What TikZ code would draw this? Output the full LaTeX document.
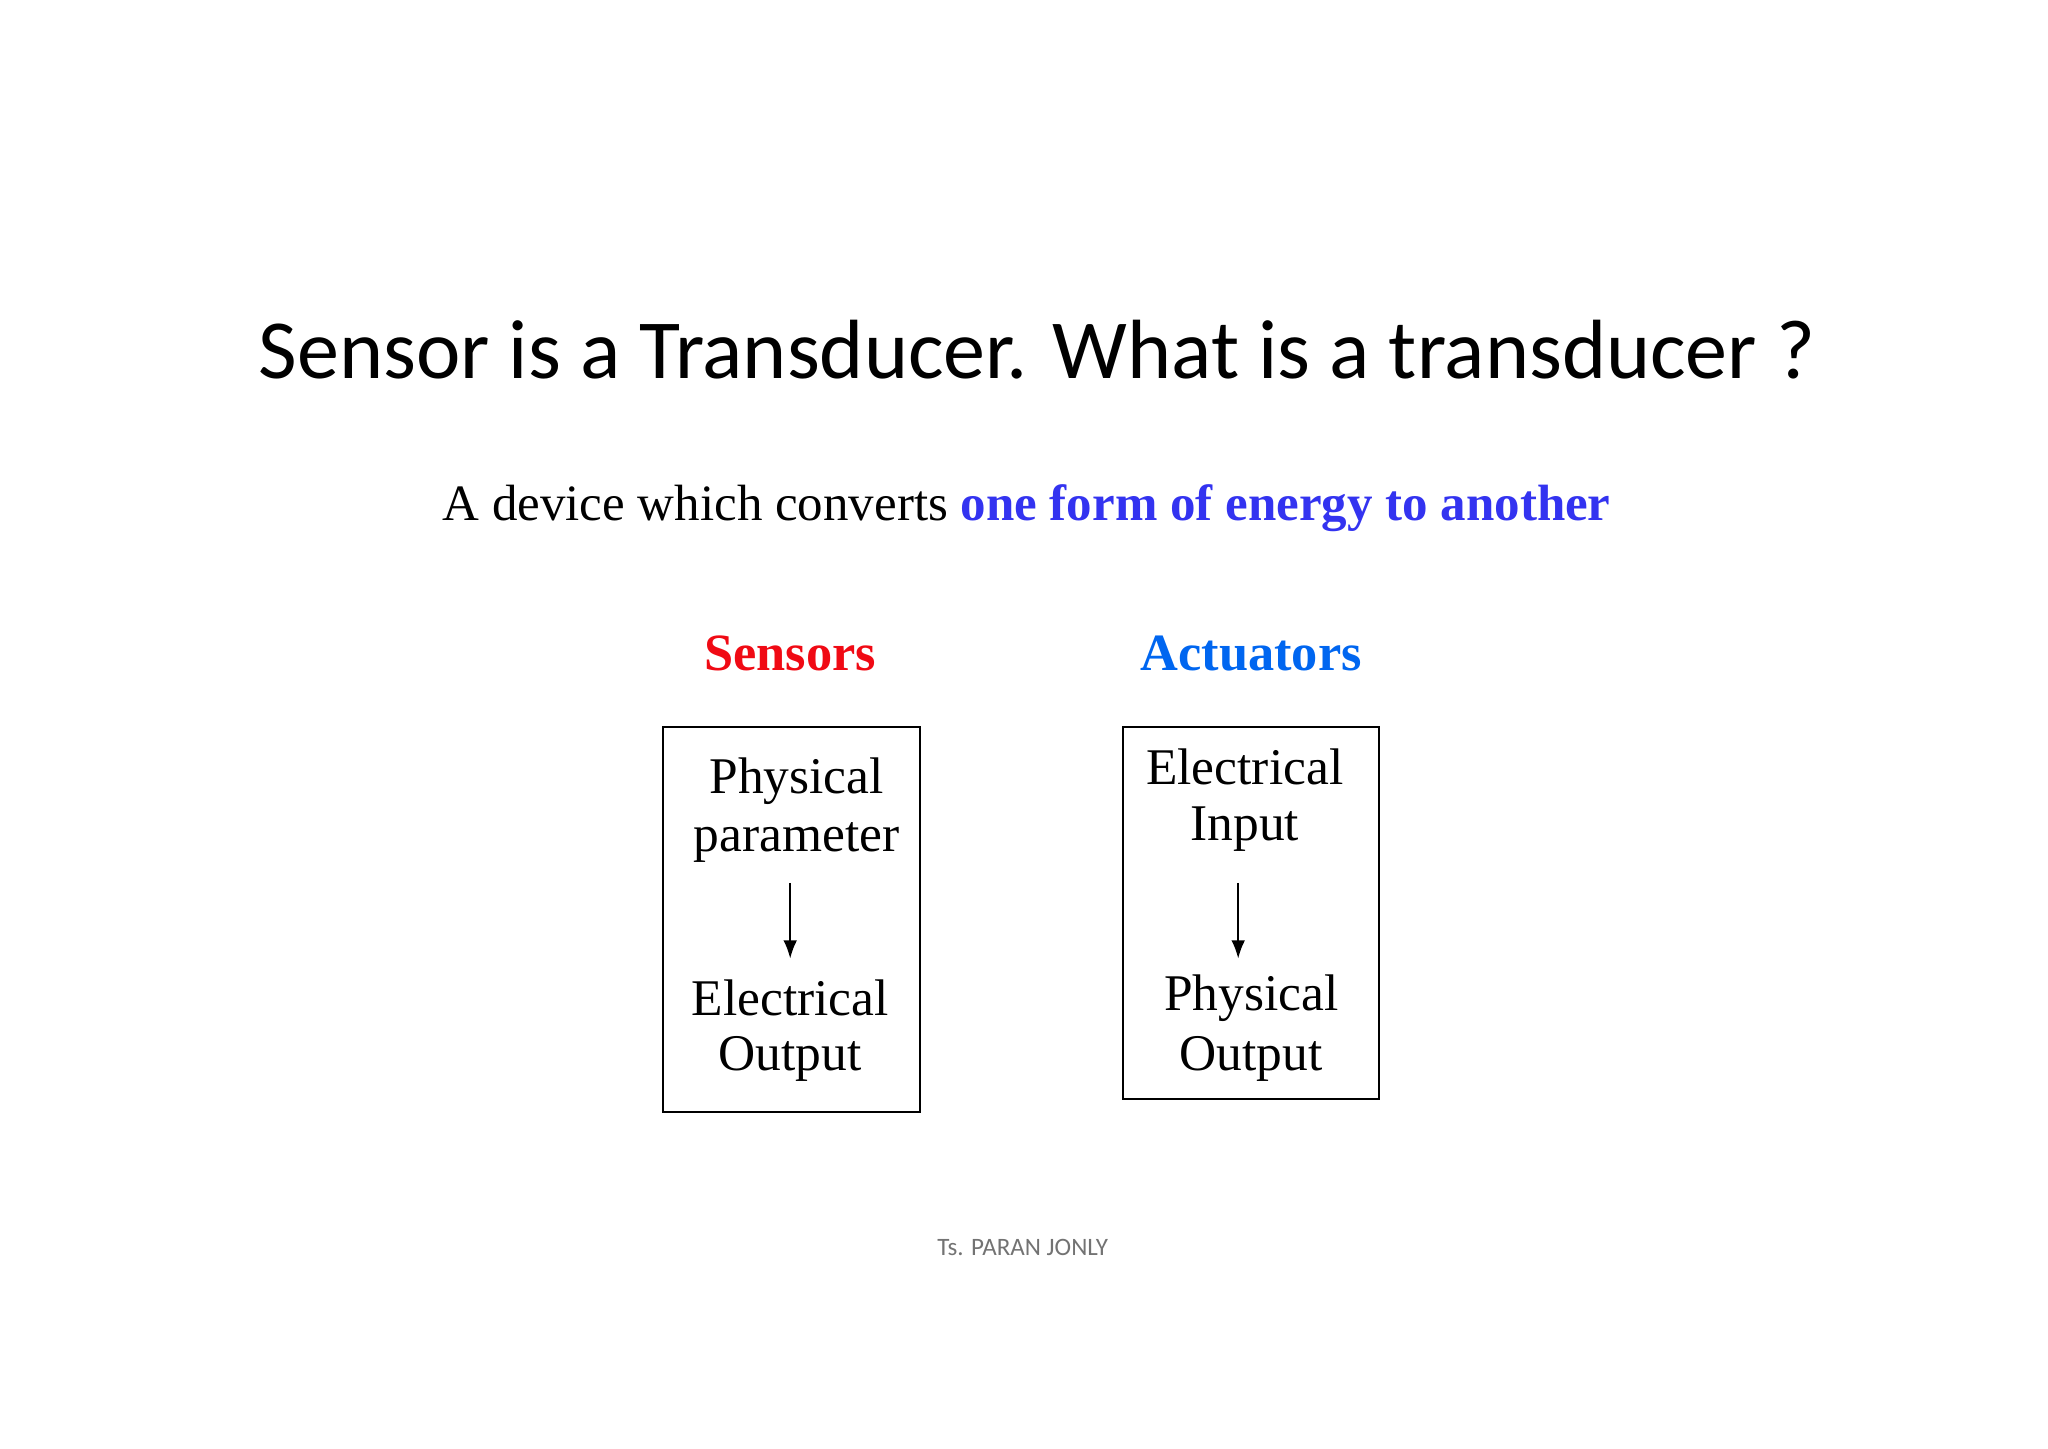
\documentclass[tikz,border=0pt]{standalone}
\usepackage{fontspec}
\setmainfont{Liberation Serif}
\newfontfamily\titlefont{Carlito}
\usetikzlibrary{arrows.meta}
\definecolor{sred}{RGB}{240,10,20}
\definecolor{ablue}{RGB}{0,102,240}
\definecolor{eblue}{RGB}{51,51,240}
\tikzset{lbl/.style={inner sep=0pt,font=\fontsize{11.2}{13}\selectfont},
 boxx/.style={draw,line width=0.45pt,inner sep=0pt,minimum width=1.96cm},
 arr/.style={-{Latex[length=4pt,width=3pt]},line width=0.5pt}}
\begin{document}
\begin{tikzpicture}[x=0.01cm,y=-0.01cm]
\useasboundingbox (0,0) rectangle (1568,1109);
\node[inner sep=0pt,font=\titlefont\fontsize{18.3}{20}\selectfont] (title) at (794,268) {Sensor is a Transducer. What is a transducer ?};
\node[inner sep=0pt,font=\fontsize{11.1}{13}\selectfont] (sub) at (786,389) {A device which converts \textcolor{eblue}{\textbf{one form of energy to another}}};
\node[lbl,font=\bfseries\fontsize{11.4}{13}\selectfont,text=sred] (sen) at (605,500) {Sensors};
\node[lbl,font=\bfseries\fontsize{11.4}{13}\selectfont,text=ablue] (act) at (958,500) {Actuators};
\node[boxx,minimum height=2.94cm] (b1) at (606,704) {};
\node[boxx,minimum height=2.84cm] (b2) at (958,699) {};
\node[lbl] (s1) at (610,598) {Physical};
\node[lbl] (s2) at (610,645) {parameter};
\node[lbl] (s3) at (605,764) {Electrical};
\node[lbl] (s4) at (605,811) {Output};
\node[lbl] (a1) at (953,587) {Electrical};
\node[lbl] (a2) at (953,635) {Input};
\node[lbl] (a3) at (958,764) {Physical};
\node[lbl] (a4) at (958,811) {Output};
\coordinate (p1) at (605,676); \coordinate (p2) at (605,734);
\coordinate (q1) at (948,676); \coordinate (q2) at (948,734);
\draw[arr] (p1) -- (p2);
\draw[arr] (q1) -- (q2);
\node[inner sep=0pt,font=\titlefont\fontsize{5.45}{6}\selectfont,text=black!55] (foot) at (783,955) {Ts. PARAN JONLY};
\end{tikzpicture}
\end{document}
